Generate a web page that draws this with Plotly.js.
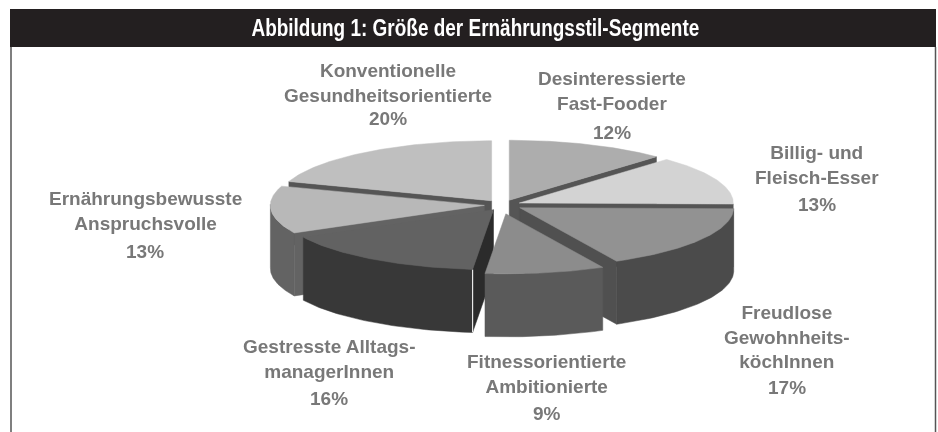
<!DOCTYPE html>
<html><head><meta charset="utf-8">
<script src="https://cdn.plot.ly/plotly-3.0.1.min.js"></script>
<style>html,body{margin:0;padding:0;background:#fff}#c{width:938px;height:432px}
.annotation-text{filter:blur(.35px)}.scatterlayer{filter:blur(.5px)}</style>
</head><body><div id="c"></div>
<script>
var titleText = 'Abbildung 1: Größe der Ernährungsstil-Segmente';
var segments = ['Desinteressierte<br>Fast-Fooder','Billig- und<br>Fleisch-Esser','Freudlose<br>Gewohnheits-<br>köchInnen','Fitnessorientierte<br>Ambitionierte','Gestresste Alltags-<br>managerInnen','Ernährungsbewusste<br>Anspruchsvolle','Konventionelle<br>Gesundheitsorientierte'];
var shares = [12,13,17,9,16,13,20];
var explodeX = [0.085,0.085,0.095,0.085,0.075,0.085,0.087];
var explodeY = [0.085,0.085,0.085,0.15,0.095,0.085,0.087];
var topColors = ['#adadad','#d3d3d3','#929292','#8c8c8c','#626262','#b8b8b8','#bfbfbf'];
var wallColors = ['#555555','#555555','#4b4b4b','#5a5a5a','#383838','#636363','#555555'];
var faceColors = ['#555555','#555555','#505050','#5a5a5a','#2b2b2b','#636363','#555555'];
var nameX = [612,817,786.5,546.5,329,145,387.5];
var nameY = [90.5,165,337,373.5,359,210.5,82.5];
var pctY = [132,204,387,413,398,251,118];
var seamSlice = 4;

var cx=502.5, cy=205, rx=214, ry=60, depth=63, warp=2*Math.PI/180;
var traces=[], annotations=[];
function poly(xs,ys,color){
  traces.push({type:'scatter',mode:'lines',x:xs.concat([xs[0]]),y:ys.concat([ys[0]]),fill:'toself',fillcolor:color,
    line:{color:color,width:0.5},hoverinfo:'skip',showlegend:false});
}
function view(t){return t+warp*(1-Math.cos(t))/2;}
function px(t){return rx*Math.sin(view(t));} function py(t){return -ry*Math.cos(view(t));}
var total=shares.reduce(function(a,b){return a+b;},0), acc=0, slices=[];
shares.forEach(function(v,i){
  var a0=acc/total*2*Math.PI; acc+=v; var a1=acc/total*2*Math.PI, m=(a0+a1)/2;
  slices.push({i:i,a0:a0,a1:a1,m:m,ox:cx+explodeX[i]*px(m),oy:cy+explodeY[i]*py(m)});
});
slices.slice().sort(function(p,q){return Math.cos(q.m)-Math.cos(p.m);}).forEach(function(s){
  function edge(a,color){
    var X=s.ox+px(a),Y=s.oy+py(a);
    poly([s.ox,X,X,s.ox],[s.oy,Y,Y+depth,s.oy+depth],color);
  }
  if(Math.sin(s.a0)<-1e-6) edge(s.a0,faceColors[s.i]);
  if(Math.sin(s.a1)>1e-6) edge(s.a1,faceColors[s.i]);
  var lo=Math.max(s.a0,Math.PI/2), hi=Math.min(s.a1,1.5*Math.PI);
  if(hi>lo){
    var tx=[],ty=[],bx=[],by=[];
    for(var k=0;k<=48;k++){
      var a=lo+(hi-lo)*k/48, X=s.ox+px(a), Y=s.oy+py(a);
      tx.push(X);ty.push(Y);bx.unshift(X);by.unshift(Y+depth);
    }
    poly(tx.concat(bx),ty.concat(by),wallColors[s.i]);
  }
  if(s.i===seamSlice){
    var SX=s.ox+px(s.a0),SY=s.oy+py(s.a0);
    traces.push({type:'scatter',mode:'lines',x:[SX,SX],y:[SY,SY+depth],line:{color:'#e8e8e8',width:1.2},hoverinfo:'skip',showlegend:false});
  }
  var xs=[s.ox],ys=[s.oy];
  for(var j=0;j<=64;j++){var b=s.a0+(s.a1-s.a0)*j/64;xs.push(s.ox+px(b));ys.push(s.oy+py(b));}
  poly(xs,ys,topColors[s.i]);
  annotations.push({xref:'x',yref:'y',x:nameX[s.i],y:nameY[s.i],text:'<b>'+segments[s.i].replace(/<br>/g,'</b><br><b>')+'</b>',showarrow:false,align:'center',xanchor:'center',yanchor:'middle',
    font:{family:'Liberation Sans, Arial, sans-serif',size:19,color:'#787878'}});
  annotations.push({xref:'x',yref:'y',x:nameX[s.i],y:pctY[s.i],text:'<b>'+shares[s.i]+'%</b>',showarrow:false,xanchor:'center',yanchor:'middle',
    font:{family:'Liberation Sans, Arial, sans-serif',size:19,color:'#787878'}});
});
annotations.push({xref:'x',yref:'y',x:475,y:27,text:'<b>'+titleText+'</b>',showarrow:false,xanchor:'center',yanchor:'middle',
  font:{family:'Liberation Sans, Arial, sans-serif',size:24,color:'#ffffff'}});
var layout={width:938,height:432,margin:{l:0,r:0,t:0,b:0},paper_bgcolor:'#ffffff',plot_bgcolor:'#ffffff',showlegend:false,
  xaxis:{range:[0,938],visible:false,fixedrange:true},
  yaxis:{range:[432,0],visible:false,fixedrange:true},
  shapes:[
    {type:'rect',layer:'below',xref:'x',yref:'y',x0:10,x1:936,y0:9,y1:47,fillcolor:'#231f20',line:{width:0}},
    {type:'line',layer:'below',xref:'x',yref:'y',x0:11,x1:11,y0:47,y1:432,line:{color:'#555555',width:1.5}},
    {type:'line',layer:'below',xref:'x',yref:'y',x0:935.5,x1:935.5,y0:47,y1:432,line:{color:'#555555',width:1.5}}
  ],
  annotations:annotations};
Plotly.newPlot('c',traces,layout,{displayModeBar:false,staticPlot:true}).then(function(){
  // condensed title face is not installed: narrow the real text to the reference's width
  document.querySelectorAll('.annotation-text').forEach(function(t){
    if(t.textContent.indexOf('Abbildung')!==0) return;
    var b=t.getBBox(), c=b.x+b.width/2, sx=448/b.width;
    t.setAttribute('transform','translate('+c+',0) scale('+sx+',1) translate('+(-c)+',0)');
  });
});
</script></body></html>
